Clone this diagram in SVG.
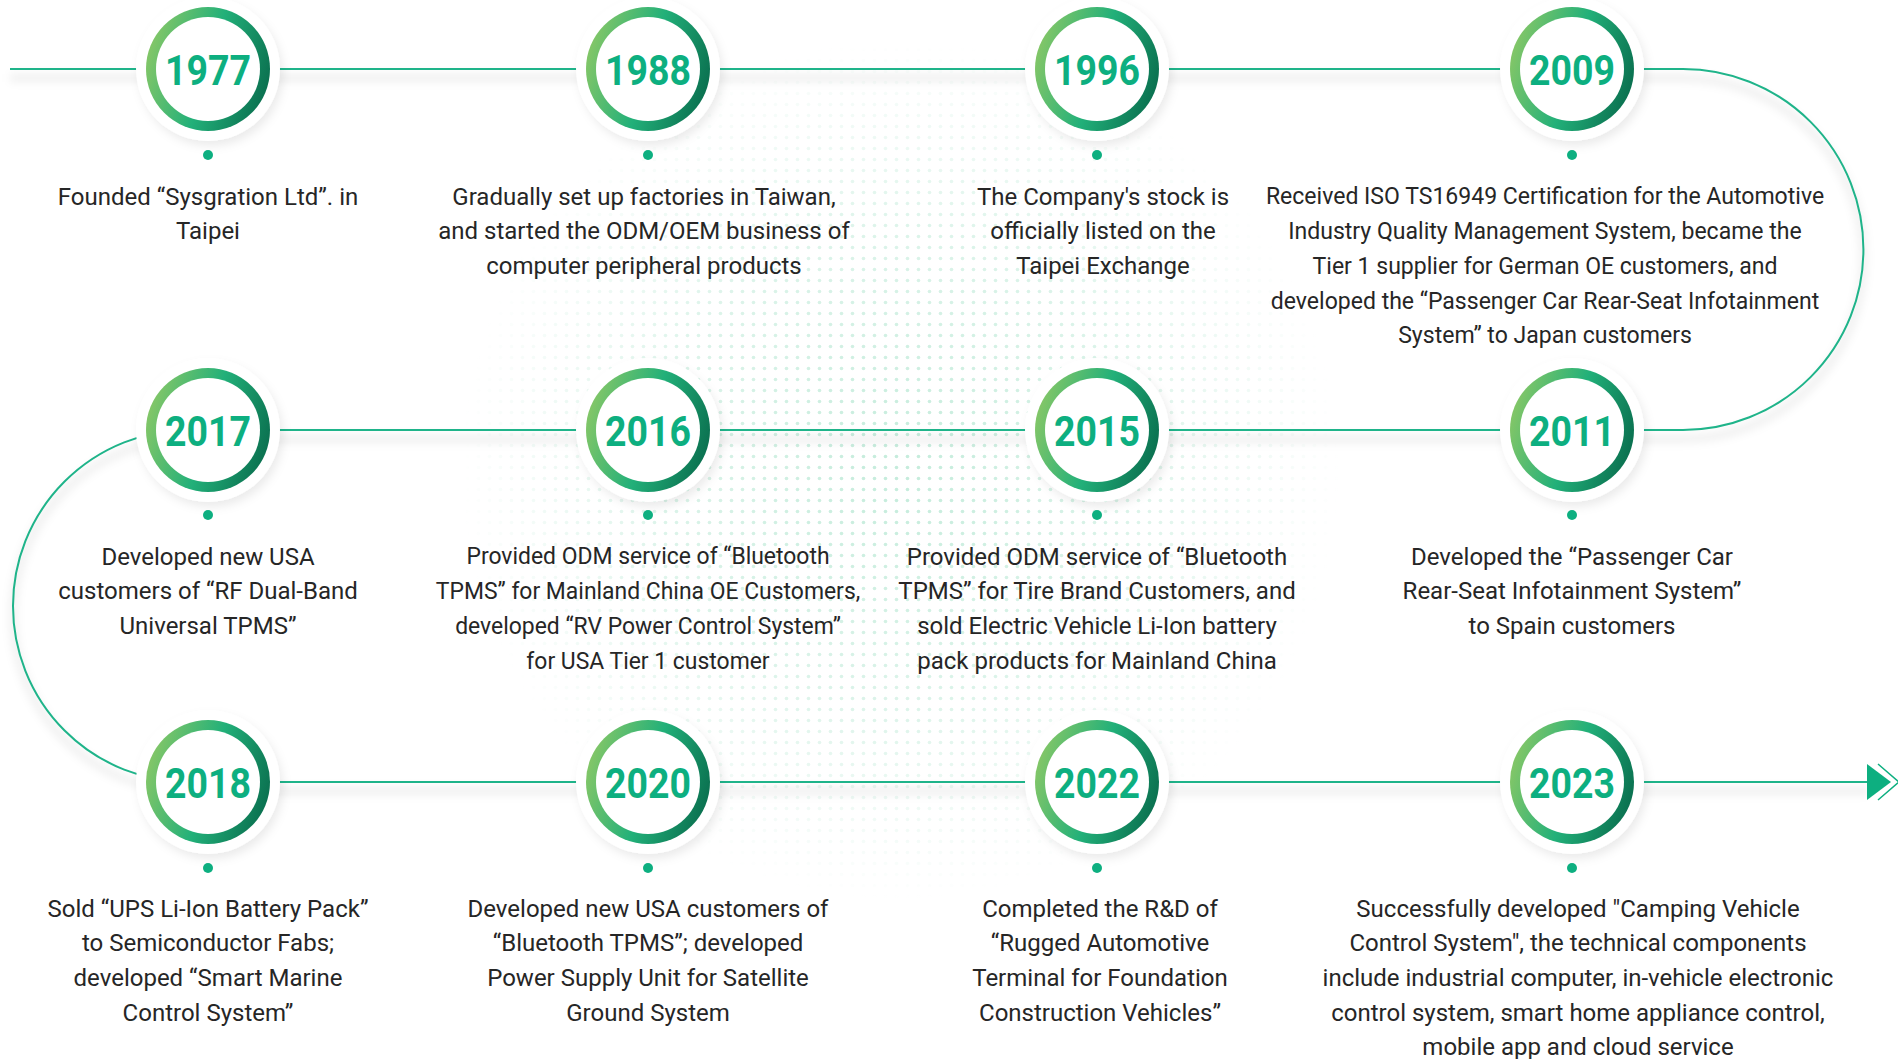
<svg xmlns="http://www.w3.org/2000/svg" width="1898" height="1059" viewBox="0 0 1898 1059">
<defs>
<linearGradient id="ring" x1="0" y1="0.35" x2="1" y2="0.65">
<stop offset="0" stop-color="#86c767"/>
<stop offset="0.5" stop-color="#22b079"/>
<stop offset="1" stop-color="#0a6f4f"/>
</linearGradient>
<pattern id="dots" x="0" y="0" width="11" height="11" patternUnits="userSpaceOnUse">
<circle cx="5.5" cy="5.5" r="1.8" fill="#c4ecdb"/>
</pattern>
<radialGradient id="fade" cx="0.5" cy="0.5" r="0.5">
<stop offset="0" stop-color="#fff" stop-opacity="1"/>
<stop offset="0.55" stop-color="#fff" stop-opacity="0.6"/>
<stop offset="1" stop-color="#fff" stop-opacity="0"/>
</radialGradient>
<mask id="dotmask"><ellipse cx="900" cy="470" rx="440" ry="430" fill="url(#fade)"/></mask>
<filter id="halo" x="-30%" y="-30%" width="160%" height="160%">
<feDropShadow dx="3" dy="5" stdDeviation="5" flood-color="#000" flood-opacity="0.08"/>
</filter>
<filter id="lineShadow" x="-5%" y="-50%" width="110%" height="200%">
<feGaussianBlur stdDeviation="4"/>
</filter>
</defs>
<style>
.line{fill:none;stroke:#1fb48a;stroke-width:2}
.lshadow{fill:none;stroke:#000;stroke-opacity:0.06;stroke-width:8}
.halo{fill:#fff}
.ringc{fill:url(#ring)}
.inner{fill:#fff}
.year{font-family:Roboto,"Liberation Sans",sans-serif;font-weight:700;font-size:43px;fill:#0daf80;text-anchor:middle}
.dot{fill:#0daf80}
.desc{font-family:Roboto,"Liberation Sans",sans-serif;font-size:24px;fill:#262626;text-anchor:middle}
</style>
<rect width="1898" height="1059" fill="#fff"/>
<rect x="440" y="40" width="920" height="900" fill="url(#dots)" mask="url(#dotmask)"/>
<g id="connectors">
<path class="lshadow" filter="url(#lineShadow)" transform="translate(0,9)" d="M10,69 H1683 A180.5,180.5 0 0 1 1683,430 H189 A176,176 0 0 0 189,782 H1868"/>
<path class="line" d="M10,69 H1683 A180.5,180.5 0 0 1 1683,430 H189 A176,176 0 0 0 189,782 H1868"/>
<polygon points="1867,764 1891,782 1867,800" fill="#0daf80"/>
<polyline points="1878,764 1899,782 1878,800" fill="none" stroke="#0daf80" stroke-width="1.5"/>
</g>
<g id="n1977">
<circle class="halo" filter="url(#halo)" cx="208" cy="69" r="72"/><circle class="ringc" cx="208" cy="69" r="62"/><circle class="inner" cx="208" cy="69" r="52"/>
<text class="year" x="208" y="85" textLength="86" lengthAdjust="spacingAndGlyphs">1977</text>
<circle class="dot" cx="208" cy="155" r="5"/>
<text class="desc" x="208" y="204.5"><tspan x="208">Founded “Sysgration Ltd”. in</tspan><tspan x="208" dy="34.7">Taipei</tspan></text>
</g>
<g id="n1988">
<circle class="halo" filter="url(#halo)" cx="648" cy="69" r="72"/><circle class="ringc" cx="648" cy="69" r="62"/><circle class="inner" cx="648" cy="69" r="52"/>
<text class="year" x="648" y="85" textLength="86" lengthAdjust="spacingAndGlyphs">1988</text>
<circle class="dot" cx="648" cy="155" r="5"/>
<text class="desc" x="644" y="204.5"><tspan x="644">Gradually set up factories in Taiwan,</tspan><tspan x="644" dy="34.7">and started the ODM/OEM business of</tspan><tspan x="644" dy="34.7">computer peripheral products</tspan></text>
</g>
<g id="n1996">
<circle class="halo" filter="url(#halo)" cx="1097" cy="69" r="72"/><circle class="ringc" cx="1097" cy="69" r="62"/><circle class="inner" cx="1097" cy="69" r="52"/>
<text class="year" x="1097" y="85" textLength="86" lengthAdjust="spacingAndGlyphs">1996</text>
<circle class="dot" cx="1097" cy="155" r="5"/>
<text class="desc" x="1103" y="204.5"><tspan x="1103">The Company's stock is</tspan><tspan x="1103" dy="34.7">officially listed on the</tspan><tspan x="1103" dy="34.7">Taipei Exchange</tspan></text>
</g>
<g id="n2009">
<circle class="halo" filter="url(#halo)" cx="1572" cy="69" r="72"/><circle class="ringc" cx="1572" cy="69" r="62"/><circle class="inner" cx="1572" cy="69" r="52"/>
<text class="year" x="1572" y="85" textLength="86" lengthAdjust="spacingAndGlyphs">2009</text>
<circle class="dot" cx="1572" cy="155" r="5"/>
<text class="desc" transform="translate(1545,0) scale(0.96,1)" x="0" y="204.5"><tspan x="0">Received ISO TS16949 Certification for the Automotive</tspan><tspan x="0" dy="34.7">Industry Quality Management System, became the</tspan><tspan x="0" dy="34.7">Tier 1 supplier for German OE customers, and</tspan><tspan x="0" dy="34.7">developed the “Passenger Car Rear-Seat Infotainment</tspan><tspan x="0" dy="34.7">System” to Japan customers</tspan></text>
</g>
<g id="n2017">
<circle class="halo" filter="url(#halo)" cx="208" cy="430" r="72"/><circle class="ringc" cx="208" cy="430" r="62"/><circle class="inner" cx="208" cy="430" r="52"/>
<text class="year" x="208" y="446" textLength="86" lengthAdjust="spacingAndGlyphs">2017</text>
<circle class="dot" cx="208" cy="515" r="5"/>
<text class="desc" x="208" y="564.5"><tspan x="208">Developed new USA</tspan><tspan x="208" dy="34.7">customers of “RF Dual-Band</tspan><tspan x="208" dy="34.7">Universal TPMS”</tspan></text>
</g>
<g id="n2016">
<circle class="halo" filter="url(#halo)" cx="648" cy="430" r="72"/><circle class="ringc" cx="648" cy="430" r="62"/><circle class="inner" cx="648" cy="430" r="52"/>
<text class="year" x="648" y="446" textLength="86" lengthAdjust="spacingAndGlyphs">2016</text>
<circle class="dot" cx="648" cy="515" r="5"/>
<text class="desc" transform="translate(648,0) scale(0.955,1)" x="0" y="564.5"><tspan x="0">Provided ODM service of “Bluetooth</tspan><tspan x="0" dy="34.7">TPMS” for Mainland China OE Customers,</tspan><tspan x="0" dy="34.7">developed “RV Power Control System”</tspan><tspan x="0" dy="34.7">for USA Tier 1 customer</tspan></text>
</g>
<g id="n2015">
<circle class="halo" filter="url(#halo)" cx="1097" cy="430" r="72"/><circle class="ringc" cx="1097" cy="430" r="62"/><circle class="inner" cx="1097" cy="430" r="52"/>
<text class="year" x="1097" y="446" textLength="86" lengthAdjust="spacingAndGlyphs">2015</text>
<circle class="dot" cx="1097" cy="515" r="5"/>
<text class="desc" x="1097" y="564.5"><tspan x="1097">Provided ODM service of “Bluetooth</tspan><tspan x="1097" dy="34.7">TPMS” for Tire Brand Customers, and</tspan><tspan x="1097" dy="34.7">sold Electric Vehicle Li-Ion battery</tspan><tspan x="1097" dy="34.7">pack products for Mainland China</tspan></text>
</g>
<g id="n2011">
<circle class="halo" filter="url(#halo)" cx="1572" cy="430" r="72"/><circle class="ringc" cx="1572" cy="430" r="62"/><circle class="inner" cx="1572" cy="430" r="52"/>
<text class="year" x="1572" y="446" textLength="86" lengthAdjust="spacingAndGlyphs">2011</text>
<circle class="dot" cx="1572" cy="515" r="5"/>
<text class="desc" x="1572" y="564.5"><tspan x="1572">Developed the “Passenger Car</tspan><tspan x="1572" dy="34.7">Rear-Seat Infotainment System”</tspan><tspan x="1572" dy="34.7">to Spain customers</tspan></text>
</g>
<g id="n2018">
<circle class="halo" filter="url(#halo)" cx="208" cy="782" r="72"/><circle class="ringc" cx="208" cy="782" r="62"/><circle class="inner" cx="208" cy="782" r="52"/>
<text class="year" x="208" y="798" textLength="86" lengthAdjust="spacingAndGlyphs">2018</text>
<circle class="dot" cx="208" cy="868" r="5"/>
<text class="desc" x="208" y="916.5"><tspan x="208">Sold “UPS Li-Ion Battery Pack”</tspan><tspan x="208" dy="34.7">to Semiconductor Fabs;</tspan><tspan x="208" dy="34.7">developed “Smart Marine</tspan><tspan x="208" dy="34.7">Control System”</tspan></text>
</g>
<g id="n2020">
<circle class="halo" filter="url(#halo)" cx="648" cy="782" r="72"/><circle class="ringc" cx="648" cy="782" r="62"/><circle class="inner" cx="648" cy="782" r="52"/>
<text class="year" x="648" y="798" textLength="86" lengthAdjust="spacingAndGlyphs">2020</text>
<circle class="dot" cx="648" cy="868" r="5"/>
<text class="desc" x="648" y="916.5"><tspan x="648">Developed new USA customers of</tspan><tspan x="648" dy="34.7">“Bluetooth TPMS”; developed</tspan><tspan x="648" dy="34.7">Power Supply Unit for Satellite</tspan><tspan x="648" dy="34.7">Ground System</tspan></text>
</g>
<g id="n2022">
<circle class="halo" filter="url(#halo)" cx="1097" cy="782" r="72"/><circle class="ringc" cx="1097" cy="782" r="62"/><circle class="inner" cx="1097" cy="782" r="52"/>
<text class="year" x="1097" y="798" textLength="86" lengthAdjust="spacingAndGlyphs">2022</text>
<circle class="dot" cx="1097" cy="868" r="5"/>
<text class="desc" x="1100" y="916.5"><tspan x="1100">Completed the R&amp;D of</tspan><tspan x="1100" dy="34.7">“Rugged Automotive</tspan><tspan x="1100" dy="34.7">Terminal for Foundation</tspan><tspan x="1100" dy="34.7">Construction Vehicles”</tspan></text>
</g>
<g id="n2023">
<circle class="halo" filter="url(#halo)" cx="1572" cy="782" r="72"/><circle class="ringc" cx="1572" cy="782" r="62"/><circle class="inner" cx="1572" cy="782" r="52"/>
<text class="year" x="1572" y="798" textLength="86" lengthAdjust="spacingAndGlyphs">2023</text>
<circle class="dot" cx="1572" cy="868" r="5"/>
<text class="desc" x="1578" y="916.5"><tspan x="1578">Successfully developed "Camping Vehicle</tspan><tspan x="1578" dy="34.7">Control System", the technical components</tspan><tspan x="1578" dy="34.7">include industrial computer, in-vehicle electronic</tspan><tspan x="1578" dy="34.7">control system, smart home appliance control,</tspan><tspan x="1578" dy="34.7">mobile app and cloud service</tspan></text>
</g>
</svg>
